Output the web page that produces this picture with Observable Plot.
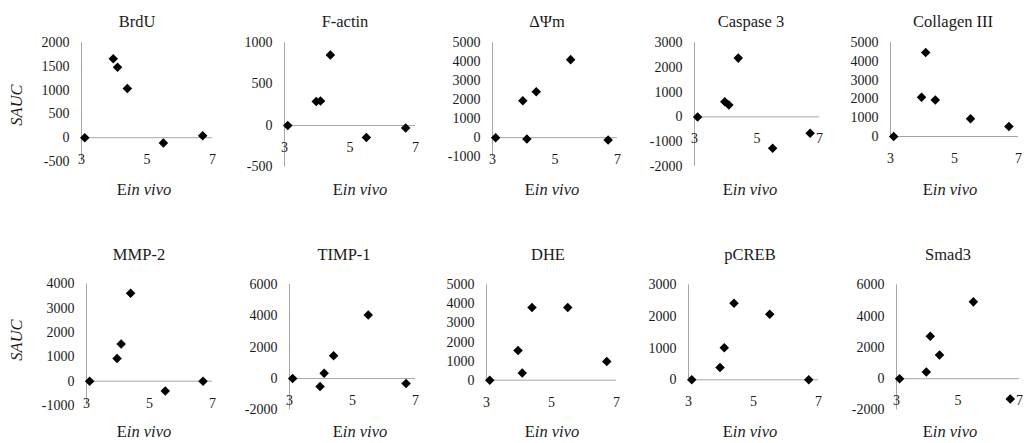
<!DOCTYPE html>
<html><head><meta charset="utf-8">
<script src="https://cdn.jsdelivr.net/npm/d3@7"></script>
<script src="https://cdn.jsdelivr.net/npm/@observablehq/plot@0.6"></script>
<style>
html,body{margin:0;padding:0;background:#fff;}
#chart{position:relative;width:1024px;height:443px;overflow:hidden;font-family:'Liberation Serif',serif;color:#1a1a1a;}
.lbl{position:absolute;white-space:nowrap;transform:translate(-50%,-50%);line-height:1;font-size:16.5px;font-family:'Liberation Serif',serif;}
.ylab{position:absolute;white-space:nowrap;transform:translate(-50%,-50%) rotate(-90deg);line-height:1;font-size:16.5px;font-style:italic;font-family:'Liberation Serif',serif;}
#chart svg{position:absolute;}
#chart svg text{font-family:'Liberation Serif',serif;}
</style></head><body><div id="chart"></div>
<script>
// ---- data ----
const panelNames = ["BrdU", "F-actin", "ΔΨm", "Caspase 3", "Collagen III", "MMP-2", "TIMP-1", "DHE", "pCREB", "Smad3"];
const eInVivo = [3.1, 3.97, 4.1, 4.4, 5.5, 6.7];
const brdU = [0, 1660, 1480, 1035, -110, 40];
const fActin = [0, 290, 295, 850, -145, -30];
const deltaPsiM = [0, 1940, -70, 2410, 4100, -120];
const caspase3 = [0, 615, 480, 2370, -1260, -660];
const collagen3 = [0, 2085, 4470, 1945, 940, 530];
const mmp2 = [0, 930, 1530, 3620, -400, 0];
const timp1 = [0, -510, 340, 1450, 4060, -320];
const dhe = [0, 1560, 380, 3810, 3810, 980];
const pCREB = [0, 390, 1010, 2420, 2070, 0];
const smad3 = [0, 430, 2710, 1520, 4910, -1300];
const yMins = [-500, -500, -1000, -2000, 0, -1000, -2000, 0, 0, -2000];
const yMaxs = [2000, 1000, 5000, 3000, 5000, 4000, 6000, 5000, 3000, 6000];
const ySteps = [500, 500, 1000, 1000, 1000, 1000, 2000, 1000, 1000, 2000];
const xTicks = [3, 5, 7];
const xLabelMain = "E";
const xLabelItalic = "in vivo";
const yLabel = "SAUC";

const seriesList = [brdU, fActin, deltaPsiM, caspase3, collagen3, mmp2, timp1, dhe, pCREB, smad3];

// ---- layout (pixels) ----
const axisXs = [81, 283.5, 492, 694, 890, 86, 288.5, 486, 688.3, 895.7];
const frameWs = [131, 131, 125, 125, 128, 126, 126, 130, 130, 123];
const topPx = [42, 42, 42, 42, 42, 283.5, 284, 284.3, 284.3, 284.3];
const bottomPx = [161, 166.5, 156.2, 166, 136, 405, 409.4, 379.7, 379.3, 409.5];
const rowTops = [0, 222];
const rowH = [222, 221];
const titleXs = [137, 345, 547, 751, 953, 139, 344, 548, 750, 948];
const titleYs = [21.5, 255];
const xTitleXs = [144, 360, 552, 750, 950];
const xTitleYs = [190, 432];
const yLabelX = 16.5;
const yLabelYs = [105, 340];
const ML = 60, MR = 15;

const chart = document.getElementById("chart");
const font = "'Liberation Serif', serif";

panelNames.forEach((name, i) => {
  const row = i < 5 ? 0 : 1;
  const col = i % 5;
  const top = rowTops[row], H = rowH[row];
  const data = eInVivo.map((x, k) => ({x, y: seriesList[i][k]}));
  const svg = Plot.plot({
    width: ML + frameWs[i] + MR,
    height: H,
    marginLeft: ML,
    marginRight: MR,
    marginTop: topPx[i] - top,
    marginBottom: top + H - bottomPx[i],
    x: {domain: [3, 7], axis: null},
    y: {domain: [yMins[i], yMaxs[i]], axis: null},
    style: {background: "transparent", overflow: "visible", fontFamily: font, fontSize: "14px", color: "#1a1a1a"},
    marks: [
      Plot.ruleY([0], {stroke: "#a6a6a6", strokeWidth: 1}),
      Plot.ruleX([3], {stroke: "#a6a6a6", strokeWidth: 1}),
      Plot.axisY({
        ticks: d3.range(yMins[i], yMaxs[i] + 1, ySteps[i]),
        tickSize: 0, tickPadding: 12,
        tickFormat: d => String(d),
        label: null,
        fontSize: 14
      }),
      Plot.text(xTicks, {x: d => d, y: () => 0, dy: 22, text: d => String(d), fontSize: 14, fill: "#1a1a1a"}),
      Plot.dot(data, {x: "x", y: "y", symbol: "diamond2", r: 4.3, fill: "#000", stroke: "none"})
    ]
  });
  svg.style.left = (axisXs[i] - ML) + "px";
  svg.style.top = top + "px";
  chart.appendChild(svg);

  const t = document.createElement("div");
  t.className = "lbl";
  t.textContent = name;
  t.style.left = titleXs[i] + "px";
  t.style.top = titleYs[row] + "px";
  chart.appendChild(t);

  const xt = document.createElement("div");
  xt.className = "lbl";
  xt.appendChild(document.createTextNode(xLabelMain));
  const it = document.createElement("i");
  it.textContent = xLabelItalic;
  xt.appendChild(it);
  xt.style.left = xTitleXs[col] + "px";
  xt.style.top = xTitleYs[row] + "px";
  chart.appendChild(xt);

  if (col === 0) {
    const yl = document.createElement("div");
    yl.className = "ylab";
    yl.textContent = yLabel;
    yl.style.left = yLabelX + "px";
    yl.style.top = yLabelYs[row] + "px";
    chart.appendChild(yl);
  }
});
</script>
</body></html>
